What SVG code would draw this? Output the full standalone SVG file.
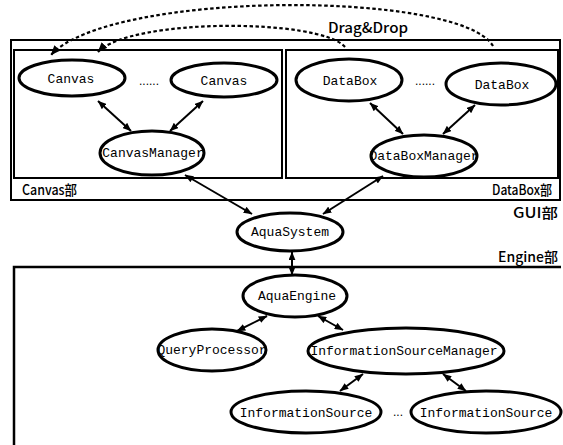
<svg xmlns="http://www.w3.org/2000/svg" width="563" height="445" viewBox="0 0 563 445">
<style>
.node ellipse{fill:#fff;stroke:#000;stroke-width:3}
.node text{font-family:"Liberation Mono","Courier New",monospace;font-size:13px;fill:#000;text-anchor:middle}
.box{fill:none;stroke:#000}
.lbl{font-family:"Noto Sans CJK JP","Liberation Sans",sans-serif;font-size:14px;font-weight:500;fill:#000}
.conn line{stroke:#000;stroke-width:2;marker-start:url(#ah);marker-end:url(#ah)}
.dd{fill:none;stroke:#000;stroke-width:2.2;stroke-dasharray:3.5 2.5;marker-end:url(#dh)}
.dots{font-family:"Liberation Sans",sans-serif;font-size:12px;fill:#000;text-anchor:middle}
</style>
<defs>
<marker id="ah" viewBox="0 0 10 8" refX="9.5" refY="4" markerWidth="9" markerHeight="7" markerUnits="userSpaceOnUse" orient="auto-start-reverse"><path d="M0,0 L10,4 L0,8 z" fill="#000"/></marker>
<marker id="dh" viewBox="0 0 10 8" refX="9.5" refY="4" markerWidth="10" markerHeight="8" markerUnits="userSpaceOnUse" orient="auto"><path d="M0,0 L10,4 L0,8 z" fill="#000"/></marker>
</defs>
<rect width="563" height="445" fill="#fff"/>

<g id="gui-box">
<rect class="box" x="11" y="40" width="549" height="160" stroke-width="2"/>
<text class="lbl" x="558" y="218" text-anchor="end" textLength="45" lengthAdjust="spacingAndGlyphs">GUI部</text>
</g>
<g id="canvas-box">
<rect class="box" x="14" y="50" width="268" height="128" stroke-width="2"/>
<text class="lbl" x="22" y="195" font-size="13" textLength="55" lengthAdjust="spacingAndGlyphs">Canvas部</text>
</g>
<g id="databox-box">
<rect class="box" x="286" y="50" width="272" height="128" stroke-width="2"/>
<text class="lbl" x="552" y="195" font-size="13" text-anchor="end" textLength="60" lengthAdjust="spacingAndGlyphs">DataBox部</text>
</g>
<g id="engine-box">
<path class="box" d="M14,446 V267 H561" stroke-width="2.5"/>
<text class="lbl" x="558" y="262" text-anchor="end" textLength="60" lengthAdjust="spacingAndGlyphs">Engine部</text>
</g>

<g id="connectors" class="conn">
<line x1="98" y1="101" x2="131" y2="131"/>
<line x1="203" y1="101" x2="170" y2="131"/>
<line x1="370" y1="103" x2="403" y2="134"/>
<line x1="475" y1="105" x2="443" y2="134"/>
<line x1="185" y1="175" x2="252" y2="214"/>
<line x1="383" y1="176" x2="323" y2="214"/>
<line x1="292" y1="252" x2="292" y2="275"/>
<line x1="267" y1="316" x2="237" y2="331"/>
<line x1="318" y1="316" x2="343" y2="330"/>
<line x1="363" y1="374" x2="340" y2="391"/>
<line x1="443" y1="374" x2="466" y2="391"/>
<path class="dd" d="M493,46 C460,-10 110,-10 51,55"/>
<path class="dd" d="M345,47 C320,18 130,18 98,52"/>
</g>
<text class="lbl" x="328" y="33" font-size="15" textLength="80" lengthAdjust="spacingAndGlyphs">Drag&amp;Drop</text>

<g id="canvas1" class="node"><ellipse cx="72" cy="78" rx="53" ry="18"/><text x="71" y="83">Canvas</text></g>
<g id="canvas2" class="node"><ellipse cx="224" cy="80" rx="53" ry="17"/><text x="224" y="85">Canvas</text></g>
<text class="dots" x="149" y="85">......</text>
<g id="canvasManager" class="node"><ellipse cx="152" cy="153" rx="52" ry="22"/><text x="153" y="157" font-size="12.4">CanvasManager</text></g>

<g id="databox1" class="node"><ellipse cx="349" cy="80" rx="53" ry="21"/><text x="350" y="85">DataBox</text></g>
<g id="databox2" class="node"><ellipse cx="501" cy="84" rx="55" ry="21"/><text x="502" y="89">DataBox</text></g>
<text class="dots" x="425" y="85">......</text>
<g id="databoxManager" class="node"><ellipse cx="424" cy="156" rx="53" ry="21"/><text x="424" y="160" font-size="11.7">DataBoxManager</text></g>

<g id="aquaSystem" class="node"><ellipse cx="290" cy="232" rx="53" ry="19"/><text x="290" y="236">AquaSystem</text></g>
<g id="aquaEngine" class="node"><ellipse cx="295" cy="296" rx="52" ry="21"/><text x="297" y="300">AquaEngine</text></g>
<g id="queryProcessor" class="node"><ellipse cx="212" cy="350" rx="54" ry="21"/><text x="212" y="354" font-size="12.3">QueryProcessor</text></g>
<g id="informationSourceManager" class="node"><ellipse cx="406" cy="351" rx="98" ry="23"/><text x="404" y="355" font-size="12.6">InformationSourceManager</text></g>
<g id="informationSource1" class="node"><ellipse cx="306" cy="412" rx="75" ry="21"/><text x="306" y="417">InformationSource</text></g>
<g id="informationSource2" class="node"><ellipse cx="486" cy="412" rx="75" ry="21"/><text x="486" y="417">InformationSource</text></g>
<text class="dots" x="398" y="416">...</text>
</svg>
